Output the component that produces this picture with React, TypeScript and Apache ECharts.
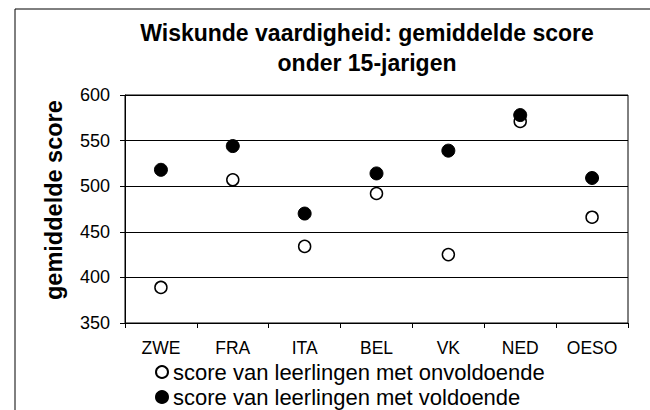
import React, { useEffect, useRef } from "react";
import * as echarts from "echarts";

const categories = ["ZWE", "FRA", "ITA", "BEL", "VK", "NED", "OESO"];
const onvoldoende = [389, 507, 434, 492, 425, 571, 466];
const voldoende = [518, 544, 470, 514, 539, 578, 509];
const seriesNames = [
  "score van leerlingen met onvoldoende",
  "score van leerlingen met voldoende",
];
const titleText = "Wiskunde vaardigheid: gemiddelde score\nonder 15-jarigen";
const yAxisName = "gemiddelde score";

const FONT = "'Liberation Sans', Arial, sans-serif";

const legendCommon = {
  orient: "horizontal",
  padding: 0,
  itemWidth: 12,
  itemHeight: 12,
  itemGap: 3,
  textStyle: { fontFamily: FONT, fontSize: 22, color: "#000" },
};

export default function App() {
  const ref = useRef<HTMLDivElement>(null);
  useEffect(() => {
    if (!ref.current) return;
    const chart = echarts.init(ref.current, undefined, { renderer: "svg" });
    chart.setOption({
      animation: false,
      backgroundColor: "#fff",
      textStyle: { fontFamily: FONT, color: "#000" },
      title: {
        text: titleText,
        left: 362,
        top: 13,
        textAlign: "center",
        textStyle: {
          fontFamily: FONT,
          fontSize: 23,
          fontWeight: "bold",
          color: "#000",
          lineHeight: 30,
        },
      },
      graphic: [
        {
          type: "rect",
          shape: { x: 15, y: 9, width: 700, height: 500 },
          style: { fill: "none", stroke: "#000", lineWidth: 1 },
          silent: true,
          z: 0,
        },
        {
          type: "text",
          x: 54,
          y: 300,
          rotation: Math.PI / 2,
          style: {
            text: yAxisName,
            fontFamily: FONT,
            fontSize: 23.5,
            fontWeight: "bold",
            fill: "#000",
            textAlign: "left",
            textVerticalAlign: "middle",
          },
          z: 10,
        },
      ],
      grid: {
        left: 125,
        top: 95,
        right: 22,
        bottom: 87,
        show: true,
        borderColor: "#000",
        borderWidth: 1,
        backgroundColor: "#fff",
      },
      legend: [
        { ...legendCommon, left: 155, top: 361, data: [seriesNames[0]] },
        { ...legendCommon, left: 155, top: 386, data: [seriesNames[1]] },
      ],
      xAxis: {
        type: "category",
        data: categories,
        boundaryGap: true,
        axisLine: { show: true, lineStyle: { color: "#000", width: 1 } },
        axisTick: { show: true, inside: false, length: 5, lineStyle: { color: "#000" } },
        axisLabel: { fontFamily: FONT, fontSize: 17.5, color: "#000", margin: 16 },
        splitLine: { show: false },
      },
      yAxis: {
        type: "value",
        min: 350,
        max: 600,
        interval: 50,
        axisLine: { show: true, lineStyle: { color: "#000", width: 1 } },
        axisTick: { show: true, inside: false, length: 5, lineStyle: { color: "#000" } },
        axisLabel: { fontFamily: FONT, fontSize: 18, color: "#000", margin: 15 },
        splitLine: { show: true, lineStyle: { color: "#000", width: 1 } },
      },
      series: [
        {
          name: seriesNames[0],
          type: "scatter",
          data: onvoldoende,
          symbol: "circle",
          symbolSize: 12,
          itemStyle: { color: "#fff", borderColor: "#000", borderWidth: 1.5, opacity: 1 },
          z: 2,
        },
        {
          name: seriesNames[1],
          type: "scatter",
          data: voldoende,
          symbol: "circle",
          symbolSize: 13,
          itemStyle: { color: "#000", borderColor: "#000", borderWidth: 1, opacity: 1 },
          z: 3,
        },
      ],
    });
    return () => chart.dispose();
  }, []);
  return (
    <div
      ref={ref}
      style={{ position: "fixed", left: 0, top: 0, width: 650, height: 410 }}
    />
  );
}
